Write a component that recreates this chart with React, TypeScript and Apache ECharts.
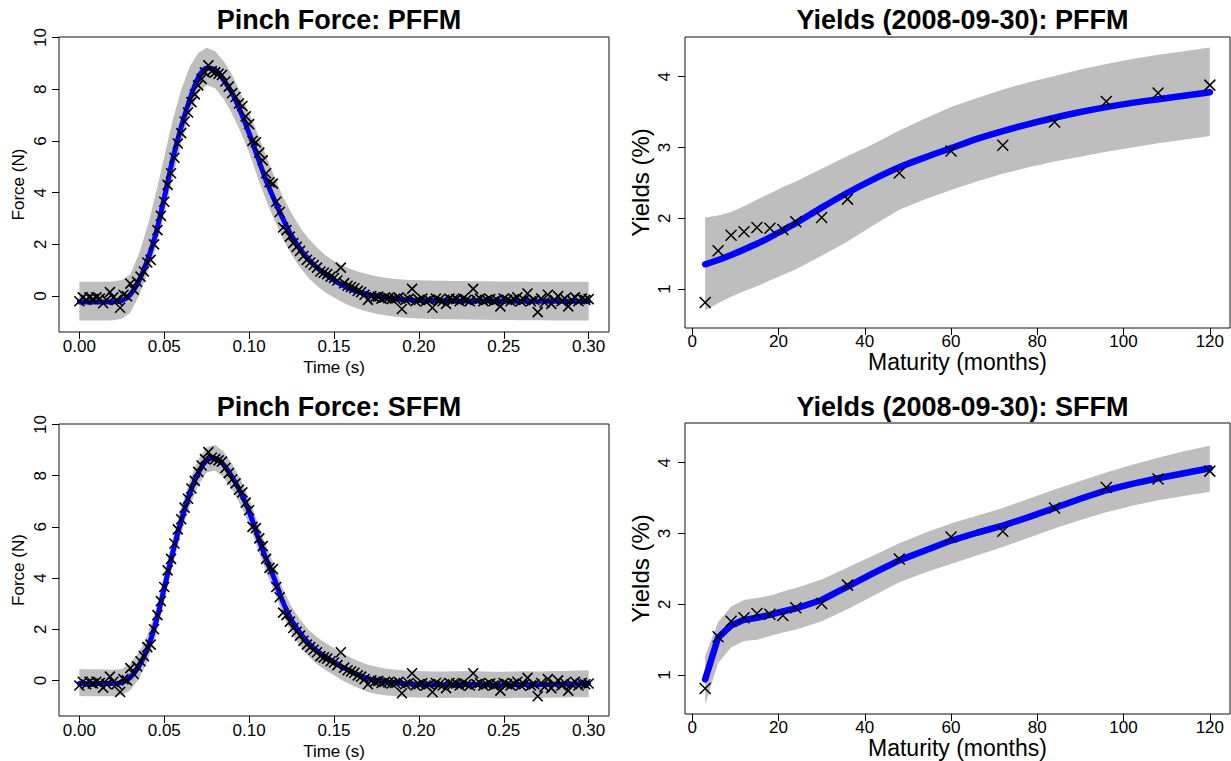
import React, { useEffect, useRef } from "react";
import * as echarts from "echarts";

// ---------- Pinch force data ----------
const pinchStep = 0.002; // sampling interval of the observations (s)
const pinchObs = [
  -0.2, -0.05, -0.15, -0.05, -0.12, -0.05, -0.1, -0.28, -0.15, 0.15,
  -0.05, -0.15, -0.45, 0.05, 0.0, 0.48, 0.25, 0.55, 0.75, 0.95,
  1.3, 1.4, 2.0, 2.55, 3.1, 3.65, 4.3, 4.75, 5.35, 5.9,
  6.3, 6.75, 7.1, 7.5, 7.8, 8.15, 8.4, 8.65, 8.92, 8.7,
  8.65, 8.6, 8.55, 8.3, 8.1, 7.85, 7.7, 7.45, 7.35, 6.95,
  6.65, 6.0, 5.95, 5.55, 5.25, 4.75, 4.4, 4.35, 3.65, 3.25,
  2.65, 2.55, 2.3, 2.05, 1.9, 1.75, 1.55, 1.4, 1.3, 1.2,
  1.1, 0.95, 0.9, 0.85, 0.75, 0.7, 0.6, 1.1, 0.5, 0.4,
  0.35, 0.3, 0.2, 0.15, 0.05, -0.15, 0.0, -0.05, -0.02, -0.1,
  -0.05, -0.08, -0.12, -0.1, -0.05, -0.5, -0.15, -0.1, 0.28, -0.2,
  -0.15, -0.1, -0.2, -0.15, -0.45, -0.1, -0.15, -0.2, -0.3, -0.1,
  -0.15, -0.12, -0.2, -0.1, -0.15, -0.2, 0.28, -0.15, -0.1, -0.2,
  -0.15, -0.12, -0.2, -0.15, -0.4, -0.1, -0.15, -0.2, -0.12, -0.05,
  -0.2, -0.15, 0.1, -0.2, -0.15, -0.62, -0.1, -0.25, 0.05, -0.3,
  -0.15, 0.0, -0.2, -0.1, -0.4, -0.15, -0.05, -0.2, -0.1, -0.15,
  -0.12,
];

const fitStep = 0.005; // grid of the fitted curves (s)
const pffmPinchFit = [
  -0.23, -0.23, -0.23, -0.23, -0.22, -0.18, 0.06, 0.58, 1.36, 2.4,
  3.8, 5.3, 6.55, 7.6, 8.45, 8.82, 8.75, 8.36, 7.85, 7.13,
  6.3, 5.38, 4.47, 3.7, 2.98, 2.33, 1.82, 1.42, 1.1, 0.83,
  0.61, 0.42, 0.26, 0.15, 0.06, 0.0, -0.06, -0.1, -0.13, -0.15,
  -0.17, -0.17, -0.18, -0.18, -0.18, -0.19, -0.19, -0.19, -0.19, -0.19,
  -0.2, -0.2, -0.2, -0.2, -0.2, -0.2, -0.2, -0.2, -0.2, -0.2, -0.2,
];
const pffmPinchUpper = [
  0.55, 0.55, 0.55, 0.55, 0.56, 0.62, 0.84, 1.62, 2.66, 3.96,
  5.38, 6.81, 7.98, 8.88, 9.4, 9.6, 9.47, 9.08, 8.56, 7.85,
  7.07, 6.29, 5.45, 4.6, 3.83, 3.2, 2.66, 2.22, 1.88, 1.58,
  1.36, 1.18, 1.04, 0.93, 0.84, 0.77, 0.71, 0.67, 0.64, 0.62,
  0.61, 0.6, 0.59, 0.59, 0.58, 0.58, 0.57, 0.57, 0.57, 0.56,
  0.56, 0.56, 0.56, 0.55, 0.55, 0.55, 0.55, 0.55, 0.55, 0.55, 0.55,
];
const pffmPinchLower = [
  -0.95, -0.95, -0.95, -0.95, -0.94, -0.88, -0.65, 0.0, 0.84, 1.88,
  3.18, 4.6, 5.9, 7.0, 7.85, 8.15, 8.04, 7.62, 7.05, 6.35,
  5.55, 4.6, 3.7, 2.92, 2.2, 1.6, 1.1, 0.7, 0.39, 0.14,
  -0.06, -0.24, -0.39, -0.51, -0.61, -0.68, -0.74, -0.79, -0.83, -0.85,
  -0.87, -0.88, -0.89, -0.9, -0.9, -0.91, -0.91, -0.92, -0.92, -0.93,
  -0.93, -0.93, -0.94, -0.94, -0.94, -0.94, -0.95, -0.95, -0.95, -0.95, -0.95,
];
const sffmPinchFit = [
  -0.12, -0.12, -0.12, -0.12, -0.12, -0.08, 0.12, 0.55, 1.22, 2.25,
  3.6, 5.0, 6.25, 7.3, 8.1, 8.6, 8.68, 8.42, 7.95, 7.35,
  6.6, 5.65, 4.75, 3.95, 3.05, 2.35, 1.85, 1.45, 1.15, 0.92,
  0.72, 0.52, 0.35, 0.2, 0.07, -0.01, -0.06, -0.09, -0.12, -0.14,
  -0.15, -0.16, -0.17, -0.17, -0.16, -0.16, -0.15, -0.16, -0.17, -0.18,
  -0.18, -0.17, -0.16, -0.16, -0.17, -0.16, -0.15, -0.15, -0.14, -0.13, -0.12,
];
const sffmPinchUpper = [
  0.45, 0.44, 0.44, 0.43, 0.42, 0.45, 0.66, 1.08, 1.74, 2.77,
  4.12, 5.52, 6.76, 7.81, 8.62, 9.12, 9.2, 8.94, 8.47, 7.87,
  7.12, 6.17, 5.27, 4.47, 3.57, 2.88, 2.38, 1.98, 1.69, 1.46,
  1.26, 1.06, 0.89, 0.74, 0.61, 0.53, 0.47, 0.43, 0.4, 0.38,
  0.37, 0.36, 0.35, 0.35, 0.36, 0.36, 0.37, 0.36, 0.35, 0.34,
  0.34, 0.35, 0.36, 0.36, 0.35, 0.36, 0.37, 0.37, 0.38, 0.39, 0.4,
];
const sffmPinchLower = [
  -0.61, -0.62, -0.62, -0.62, -0.62, -0.58, -0.38, 0.05, 0.72, 1.75,
  3.1, 4.5, 5.76, 6.8, 7.62, 8.12, 8.2, 7.93, 7.45, 6.85,
  6.1, 5.15, 4.25, 3.45, 2.55, 1.85, 1.34, 0.94, 0.63, 0.4,
  0.2, 0.0, -0.17, -0.32, -0.45, -0.53, -0.58, -0.61, -0.64, -0.66,
  -0.67, -0.68, -0.69, -0.69, -0.68, -0.68, -0.67, -0.68, -0.69, -0.7,
  -0.7, -0.69, -0.68, -0.68, -0.69, -0.68, -0.67, -0.67, -0.66, -0.66, -0.66,
];
const pinchXTicks = [0, 0.05, 0.1, 0.15, 0.2, 0.25, 0.3];
const pinchYTicks = [0, 2, 4, 6, 8, 10];

// ---------- Yields data ----------
const maturities = [3, 6, 9, 12, 15, 18, 21, 24, 30, 36, 48, 60, 72, 84, 96, 108, 120];
const yields = [0.81, 1.54, 1.76, 1.81, 1.87, 1.86, 1.84, 1.95, 2.01, 2.27, 2.64, 2.95, 3.03, 3.36, 3.65, 3.77, 3.88];

const fitMaturities = [3, 6, 9, 12, 15, 18, 21, 24, 30, 36, 42, 48, 54, 60, 66, 72, 78, 84, 90, 96, 102, 108, 114, 120];
const pffmYieldFit = [1.35, 1.41, 1.48, 1.56, 1.64, 1.73, 1.83, 1.93, 2.15, 2.36, 2.55, 2.72, 2.86, 2.99, 3.12, 3.23, 3.33, 3.42, 3.5, 3.57, 3.63, 3.68, 3.73, 3.78];
const pffmYieldUpper = [2.01, 2.04, 2.09, 2.17, 2.26, 2.35, 2.44, 2.52, 2.7, 2.88, 3.05, 3.24, 3.41, 3.57, 3.7, 3.82, 3.92, 4.01, 4.1, 4.18, 4.25, 4.31, 4.36, 4.41];
const pffmYieldLower = [0.7, 0.8, 0.89, 0.97, 1.04, 1.12, 1.2, 1.28, 1.47, 1.67, 1.9, 2.12, 2.27, 2.4, 2.52, 2.63, 2.72, 2.8, 2.87, 2.94, 3.0, 3.06, 3.11, 3.16];
const sffmYieldFit = [0.94, 1.53, 1.7, 1.78, 1.81, 1.85, 1.9, 1.94, 2.06, 2.25, 2.44, 2.62, 2.76, 2.9, 3.01, 3.11, 3.23, 3.36, 3.49, 3.61, 3.7, 3.78, 3.85, 3.92];
const sffmYieldUpper = [1.27, 1.75, 1.97, 2.06, 2.09, 2.12, 2.18, 2.23, 2.35, 2.52, 2.69, 2.86, 3.01, 3.14, 3.25, 3.36, 3.49, 3.62, 3.74, 3.86, 3.97, 4.07, 4.16, 4.24];
const sffmYieldLower = [0.58, 1.17, 1.39, 1.48, 1.5, 1.55, 1.6, 1.64, 1.76, 1.93, 2.12, 2.31, 2.45, 2.57, 2.69, 2.81, 2.94, 3.07, 3.19, 3.3, 3.39, 3.47, 3.53, 3.59];
const yieldXTicks = [0, 20, 40, 60, 80, 100, 120];
const yieldYTicks = [1, 2, 3, 4];

const titles = [
  "Pinch Force: PFFM",
  "Yields (2008-09-30): PFFM",
  "Pinch Force: SFFM",
  "Yields (2008-09-30): SFFM",
];

const FONT = "'Liberation Sans', Arial, Helvetica, sans-serif";
const BAND = "#BEBEBE";
const BLUE = "#0000FF";
const CROSS = "path://M0,0L10,10M10,0L0,10";

const pinchTimes = pinchObs.map((_, i) => +(i * pinchStep).toFixed(3));
const fitTimes = pffmPinchFit.map((_, i) => +(i * fitStep).toFixed(3));

function pairs(xs: number[], ys: number[]) {
  return xs.map((x, i) => [x, ys[i]]);
}

function bandSeries(idx: number, xs: number[], up: number[], lo: number[]) {
  return {
    type: "custom",
    xAxisIndex: idx,
    yAxisIndex: idx,
    silent: true,
    z: 1,
    data: [[xs[0], up[0]]],
    renderItem: (_p: any, api: any) => {
      const pts: number[][] = [];
      for (let i = 0; i < xs.length; i++) pts.push(api.coord([xs[i], up[i]]));
      for (let i = xs.length - 1; i >= 0; i--) pts.push(api.coord([xs[i], lo[i]]));
      return { type: "polygon", shape: { points: pts }, style: { fill: BAND, stroke: null } };
    },
  };
}

function lineSeries(idx: number, xs: number[], ys: number[], width: number, smooth: number | boolean) {
  return {
    type: "line",
    xAxisIndex: idx,
    yAxisIndex: idx,
    data: pairs(xs, ys),
    symbol: "none",
    showSymbol: false,
    smooth,
    silent: true,
    z: 2,
    lineStyle: { color: BLUE, width, cap: "round", join: "round" },
  };
}

function pointSeries(idx: number, xs: number[], ys: number[], size: number, lw: number) {
  return {
    type: "scatter",
    xAxisIndex: idx,
    yAxisIndex: idx,
    data: pairs(xs, ys),
    symbol: CROSS,
    symbolSize: size,
    silent: true,
    z: 3,
    itemStyle: { color: "rgba(0,0,0,0)", borderColor: "#000", borderWidth: lw, opacity: 1 },
  };
}

function xAxisCfg(idx: number, min: number, max: number, ticks: number[], fmt: (v: number) => string, name: string, nameSize: number, nameGap: number, labelMargin: number) {
  return {
    gridIndex: idx,
    type: "value",
    position: "bottom",
    min,
    max,
    splitLine: { show: false },
    axisLine: { show: false, onZero: false },
    axisTick: { show: true, customValues: ticks, length: 7, inside: false, lineStyle: { color: "#000", width: 1 } },
    axisLabel: { show: true, customValues: ticks, formatter: fmt, color: "#000", fontSize: 17, fontFamily: FONT, margin: labelMargin },
    name,
    nameLocation: "middle",
    nameGap,
    nameTextStyle: { color: "#000", fontSize: nameSize, fontFamily: FONT },
  };
}

function yAxisCfg(idx: number, min: number, max: number, ticks: number[], name: string, nameSize: number, nameGap: number, labelMargin: number) {
  return {
    gridIndex: idx,
    type: "value",
    position: "left",
    min,
    max,
    splitLine: { show: false },
    axisLine: { show: false, onZero: false },
    axisTick: { show: true, customValues: ticks, length: 7, inside: false, lineStyle: { color: "#000", width: 1 } },
    axisLabel: { show: true, customValues: ticks, formatter: (v: number) => String(v), rotate: 90, color: "#000", fontSize: 17, fontFamily: FONT, margin: labelMargin },
    name,
    nameLocation: "middle",
    nameRotate: 90,
    nameGap,
    nameTextStyle: { color: "#000", fontSize: nameSize, fontFamily: FONT },
  };
}

export default function App() {
  const ref = useRef<HTMLDivElement>(null);
  useEffect(() => {
    if (!ref.current) return;
    const chart = echarts.init(ref.current, undefined, { renderer: "svg" });
    const grids = [
      { left: 59, top: 37, width: 550, height: 295 },
      { left: 685, top: 37, width: 545, height: 291 },
      { left: 59, top: 424, width: 550, height: 296 },
      { left: 685, top: 423, width: 545, height: 291 },
    ].map((g) => ({ ...g, show: true, borderColor: "#111", borderWidth: 1, backgroundColor: "transparent", containLabel: false }));

    const titleTops = [1, 1, 388, 388];
    const title = titles.map((t, i) => ({
      text: t,
      left: grids[i].left + grids[i].width / 2,
      top: titleTops[i],
      textAlign: "center",
      textStyle: { fontSize: 27, fontWeight: "bold", fontFamily: FONT, color: "#000" },
    }));

    const pinchFmt = (v: number) => v.toFixed(2);
    const intFmt = (v: number) => String(v);

    const option: any = {
      animation: false,
      backgroundColor: "#fff",
      title,
      grid: grids,
      xAxis: [
        xAxisCfg(0, -0.012, 0.312, pinchXTicks, pinchFmt, "Time (s)", 17, 27, 6),
        xAxisCfg(1, -1.68, 124.68, yieldXTicks, intFmt, "Maturity (months)", 23, 21, 5),
        xAxisCfg(2, -0.012, 0.312, pinchXTicks, pinchFmt, "Time (s)", 17, 27, 6),
        xAxisCfg(3, -1.68, 124.68, yieldXTicks, intFmt, "Maturity (months)", 23, 21, 5),
      ],
      yAxis: [
        yAxisCfg(0, -1.39, 10.02, pinchYTicks, "Force (N)", 17, 32, 10),
        yAxisCfg(1, 0.45, 4.56, yieldYTicks, "Yields (%)", 24, 33, 12),
        yAxisCfg(2, -1.39, 10.02, pinchYTicks, "Force (N)", 17, 32, 10),
        yAxisCfg(3, 0.45, 4.56, yieldYTicks, "Yields (%)", 24, 33, 12),
      ],
      series: [
        bandSeries(0, fitTimes, pffmPinchUpper, pffmPinchLower),
        lineSeries(0, fitTimes, pffmPinchFit, 5, 0.3),
        pointSeries(0, pinchTimes, pinchObs, 10, 1.6),
        bandSeries(1, fitMaturities, pffmYieldUpper, pffmYieldLower),
        lineSeries(1, fitMaturities, pffmYieldFit, 6.5, 0.3),
        pointSeries(1, maturities, yields, 11, 1.5),
        bandSeries(2, fitTimes, sffmPinchUpper, sffmPinchLower),
        lineSeries(2, fitTimes, sffmPinchFit, 5, 0.3),
        pointSeries(2, pinchTimes, pinchObs, 10, 1.6),
        bandSeries(3, fitMaturities, sffmYieldUpper, sffmYieldLower),
        lineSeries(3, fitMaturities, sffmYieldFit, 6.5, false),
        pointSeries(3, maturities, yields, 11, 1.5),
      ],
    };
    chart.setOption(option);
    return () => chart.dispose();
  }, []);
  return (
    <div
      ref={ref}
      style={{ position: "absolute", left: 0, top: 0, width: 1231, height: 761, background: "#fff" }}
    />
  );
}
